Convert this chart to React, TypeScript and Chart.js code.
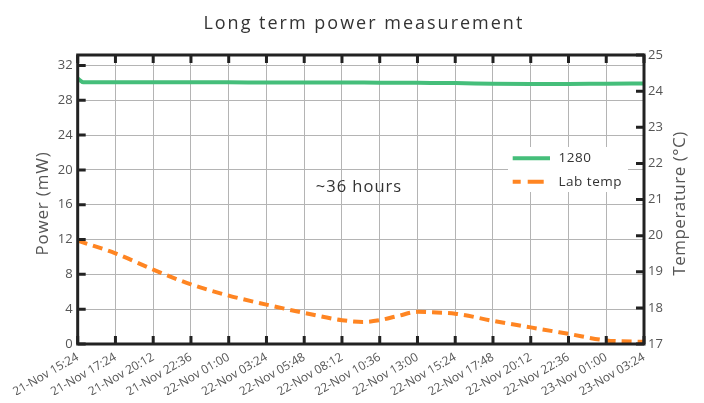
import React, { useEffect, useRef } from "react";
import { Chart, registerables } from "chart.js";

Chart.register(...registerables);

const timeLabels = [
  "21-Nov 15:24", "21-Nov 17:24", "21-Nov 20:12", "21-Nov 22:36",
  "22-Nov 01:00", "22-Nov 03:24", "22-Nov 05:48", "22-Nov 08:12",
  "22-Nov 10:36", "22-Nov 13:00", "22-Nov 15:24", "22-Nov 17:48",
  "22-Nov 20:12", "22-Nov 22:36", "23-Nov 01:00", "23-Nov 03:24",
];

const powerX = [0, 0.15, 1, 2, 3, 4, 5, 6, 7, 8, 9, 10, 11, 12, 13, 14, 15];
const powerY = [30.5, 30.06, 30.07, 30.06, 30.06, 30.06, 30.05, 30.05, 30.04, 30.02, 30.0, 29.98, 29.9, 29.87, 29.88, 29.91, 29.93];

const tempX = [0, 1, 2, 3, 4, 5, 6, 7, 7.55, 8, 8.5, 9, 9.5, 10, 11, 12, 13, 14, 15];
const tempY = [19.86, 19.51, 19.06, 18.65, 18.34, 18.09, 17.86, 17.66, 17.61, 17.66, 17.78, 17.89, 17.87, 17.84, 17.64, 17.46, 17.28, 17.1, 17.06];

const powerTicks = [0, 4, 8, 12, 16, 20, 24, 28, 32];

const FONT = "'Open Sans', sans-serif";
const GREEN = "#45be7a";
const ORANGE = "#ff8522";
const FRAME = "#222222";
const GRID = "#b4b4b4";
const TEXT = "#555555";

const decorPlugin = {
  id: "decor",
  afterDraw(chart: any) {
    const ctx = chart.ctx;
    const { left, right, top, bottom } = chart.chartArea;
    const xs = chart.scales.x;
    const ys = chart.scales.y;
    const y1 = chart.scales.y1;

    // legend box
    const bx = right - 136;
    const by = top + 92;
    ctx.save();
    ctx.fillStyle = "#ffffff";
    ctx.fillRect(bx, by, 120, 45);
    ctx.lineWidth = 4;
    ctx.strokeStyle = GREEN;
    ctx.beginPath();
    ctx.moveTo(bx + 4.7, by + 11.3);
    ctx.lineTo(bx + 42, by + 11.3);
    ctx.stroke();
    ctx.strokeStyle = ORANGE;
    ctx.setLineDash([16, 7]);
    ctx.lineDashOffset = 8;
    ctx.beginPath();
    ctx.moveTo(bx + 4.7, by + 34.7);
    ctx.lineTo(bx + 36, by + 34.7);
    ctx.stroke();
    ctx.setLineDash([]);
    ctx.fillStyle = "#333333";
    ctx.font = `13.5px ${FONT}`;
    (ctx as any).letterSpacing = "0.5px";
    ctx.textBaseline = "middle";
    ctx.textAlign = "left";
    ctx.fillText("1280", bx + 50.5, by + 11.3);
    ctx.fillText("Lab temp", bx + 50.5, by + 34.7);
    ctx.restore();

    // inward tick marks and frame
    ctx.save();
    ctx.strokeStyle = FRAME;
    ctx.lineWidth = 3;
    ctx.beginPath();
    for (const t of ys.ticks) {
      const py = ys.getPixelForValue(t.value);
      ctx.moveTo(left, py);
      ctx.lineTo(left + 8, py);
    }
    for (const t of y1.ticks) {
      const py = y1.getPixelForValue(t.value);
      ctx.moveTo(right, py);
      ctx.lineTo(right - 8, py);
    }
    for (const t of xs.ticks) {
      const px = xs.getPixelForValue(t.value);
      ctx.moveTo(px, bottom);
      ctx.lineTo(px, bottom - 8);
      ctx.moveTo(px, top);
      ctx.lineTo(px, top + 8);
    }
    ctx.stroke();
    ctx.strokeRect(left, top, right - left, bottom - top);
    ctx.restore();

    // annotation
    ctx.save();
    ctx.fillStyle = "#333333";
    ctx.font = `16.5px ${FONT}`;
    (ctx as any).letterSpacing = "1px";
    ctx.textAlign = "center";
    ctx.textBaseline = "middle";
    ctx.fillText("~36 hours", xs.getPixelForValue(7.45), ys.getPixelForValue(18.04));
    ctx.restore();

    // title
    ctx.save();
    ctx.fillStyle = "#333333";
    ctx.font = `18px ${FONT}`;
    (ctx as any).letterSpacing = "2px";
    ctx.textAlign = "center";
    ctx.textBaseline = "alphabetic";
    ctx.fillText("Long term power measurement", (left + right) / 2 + 3, 20.5);
    ctx.restore();

    // axis titles
    const cy = (top + bottom) / 2 + 4;
    ctx.save();
    ctx.fillStyle = TEXT;
    ctx.font = `17px ${FONT}`;
    (ctx as any).letterSpacing = "0.8px";
    ctx.textAlign = "center";
    ctx.textBaseline = "middle";
    ctx.translate(35, cy);
    ctx.rotate(-Math.PI / 2);
    ctx.fillText("Power (mW)", 0, 0);
    ctx.restore();

    ctx.save();
    ctx.fillStyle = TEXT;
    ctx.font = `17px ${FONT}`;
    (ctx as any).letterSpacing = "0.5px";
    ctx.textAlign = "center";
    ctx.textBaseline = "middle";
    ctx.translate(672, cy);
    ctx.rotate(-Math.PI / 2);
    ctx.fillText("Temperature (°C)", 0, 0);
    ctx.restore();
  },
};

export default function App() {
  const ref = useRef<HTMLCanvasElement | null>(null);

  useEffect(() => {
    if (!ref.current) return;
    const chart = new Chart(ref.current, {
      type: "line",
      data: {
        datasets: [
          {
            label: "1280",
            data: powerX.map((x, i) => ({ x, y: powerY[i] })),
            borderColor: GREEN,
            backgroundColor: GREEN,
            borderWidth: 4,
            pointRadius: 0,
            cubicInterpolationMode: "monotone",
            yAxisID: "y",
          },
          {
            label: "Lab temp",
            data: tempX.map((x, i) => ({ x, y: tempY[i] })),
            borderColor: ORANGE,
            backgroundColor: ORANGE,
            borderWidth: 4,
            borderDash: [10, 6],
            pointRadius: 0,
            cubicInterpolationMode: "monotone",
            yAxisID: "y1",
          },
        ],
      },
      options: {
        responsive: false,
        animation: false,
        layout: { padding: { top: 47, left: 0, right: 0, bottom: 0 } },
        plugins: {
          legend: { display: false },
          title: { display: false },
          tooltip: { enabled: false },
        },
        scales: {
          x: {
            type: "linear",
            min: 0,
            max: 15,
            afterBuildTicks: (s: any) => {
              s.ticks = timeLabels.map((_, i) => ({ value: i }));
            },
            afterFit: (s: any) => {
              s.height = 51;
            },
            ticks: {
              autoSkip: false,
              stepSize: 1,
              maxRotation: 30,
              minRotation: 30,
              padding: 6,
              color: TEXT,
              font: { family: FONT, size: 12 },
              callback: (v: any) => timeLabels[Math.round(Number(v))] ?? "",
            },
            grid: { color: GRID, drawTicks: false, lineWidth: 1 },
            border: { display: false },
          },
          y: {
            type: "linear",
            position: "left",
            min: 0,
            max: 33.2,
            afterBuildTicks: (s: any) => {
              s.ticks = powerTicks.map((v) => ({ value: v }));
            },
            afterFit: (s: any) => {
              s.width = 69;
            },
            ticks: {
              padding: 5,
              color: TEXT,
              font: { family: FONT, size: 13 },
            },
            grid: { color: GRID, drawTicks: false, lineWidth: 1 },
            border: { display: false },
          },
          y1: {
            type: "linear",
            position: "right",
            min: 17,
            max: 25,
            afterFit: (s: any) => {
              s.width = 52;
            },
            ticks: {
              stepSize: 1,
              padding: 4,
              color: TEXT,
              font: { family: FONT, size: 13 },
            },
            grid: { drawOnChartArea: false, drawTicks: false },
            border: { display: false },
          },
        },
      },
      plugins: [decorPlugin],
    });
    return () => chart.destroy();
  }, []);

  return (
    <div style={{ width: 688, height: 387 }}>
      <canvas ref={ref} width={688} height={387} style={{ width: 688, height: 387 }} />
    </div>
  );
}
